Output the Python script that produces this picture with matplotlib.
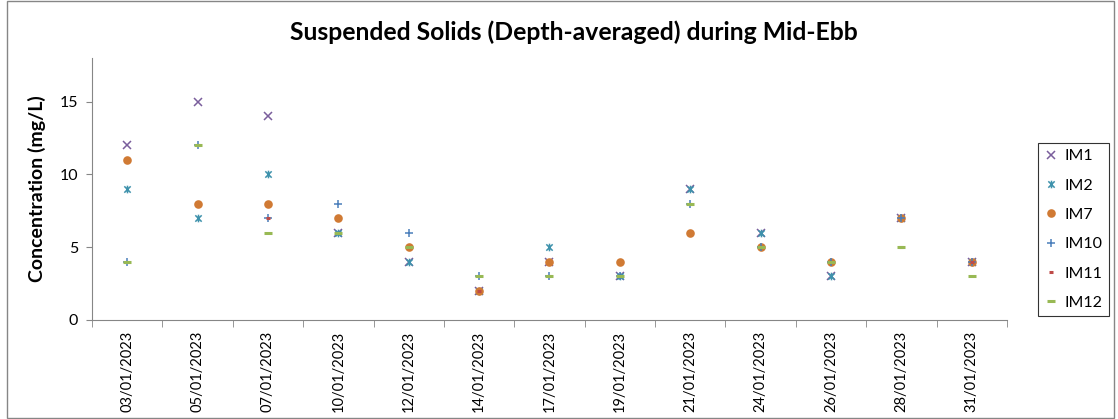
import numpy as np
import matplotlib.pyplot as plt
from matplotlib.path import Path
from matplotlib.patches import Rectangle

plt.rcParams['font.family'] = ['Lato', 'DejaVu Sans']

dates = ['03/01/2023', '05/01/2023', '07/01/2023', '10/01/2023', '12/01/2023',
         '14/01/2023', '17/01/2023', '19/01/2023', '21/01/2023', '24/01/2023',
         '26/01/2023', '28/01/2023', '31/01/2023']

im1 = [12, 15, 14, 6, 4, 2, 4, 3, 9, 6, 3, 7, 4]
im2 = [9, 7, 10, 6, 4, 2, 5, 3, 9, 6, 3, 7, 4]
im7 = [11, 8, 8, 7, 5, 2, 4, 4, 6, 5, 4, 7, 4]
im10 = [4, 12, 7, 8, 6, 3, 3, 3, 8, 5, 4, 7, 4]
im11 = [4, 12, 7, 6, 5, 2, 3, 3, 8, 5, 4, 5, 4]
im12 = [4, 12, 6, 6, 5, 3, 3, 3, 8, 5, 4, 5, 3]

# Excel "star" marker: x with a vertical bar
star = Path([(-1, -1), (1, 1), (-1, 1), (1, -1), (0, -1.2), (0, 1.2)],
            [Path.MOVETO, Path.LINETO, Path.MOVETO, Path.LINETO, Path.MOVETO, Path.LINETO])

fig = plt.figure(figsize=(11.18, 4.19), dpi=100)
ax = fig.add_axes([0.0823, 0.2363, 0.8184, 0.6253])

x = np.arange(len(dates))
ax.plot(x, im1, ls='none', marker='x', ms=5.5, mew=1.1, color='#7A5E9C', label='IM1')
ax.plot(x, im2, ls='none', marker=star, ms=5.5, mew=1.1, color='#3E92AC', label='IM2')
ax.plot(x, im7, ls='none', marker='o', ms=6.2, mec='none', color='#D07A34', label='IM7')
ax.plot(x, im10, ls='none', marker='+', ms=6, mew=1.1, color='#4A7EBB', label='IM10')
ax.plot(x, im11, ls='none', marker='_', ms=3.5, mew=2.2, color='#BE4B48', label='IM11')
ax.plot(x, im12, ls='none', marker='_', ms=6, mew=2.2, color='#98B954', label='IM12')

ax.set_xlim(-0.5, len(dates) - 0.5)
ax.set_ylim(0, 18)
ax.set_yticks([0, 5, 10, 15])
ax.set_xticks(x)
ax.set_xticklabels(dates, rotation=90, fontsize=10.5)
ax.set_xticks(np.arange(len(dates) + 1) - 0.5, minor=True)
ax.tick_params(axis='x', which='major', length=0, pad=8)
ax.tick_params(axis='x', which='minor', length=5, color='#868686', direction='out')
ax.tick_params(axis='y', length=4, color='#868686', labelsize=11.5, pad=6)
for s in ['top', 'right']:
    ax.spines[s].set_visible(False)
for s in ['left', 'bottom']:
    ax.spines[s].set_color('#868686')

ax.set_ylabel('Concentration (mg/L)', fontsize=14, fontweight='bold', labelpad=10)
fig.text(0.513, 0.922, 'Suspended Solids (Depth-averaged) during Mid-Ebb',
         ha='center', va='center', fontsize=17.8, fontweight='bold')

leg = ax.legend(loc='center left', bbox_to_anchor=(1.025, 0.345), frameon=True,
                fancybox=False, edgecolor='black', fontsize=11.5, handlelength=0.8,
                handletextpad=0.5, borderpad=0.4, labelspacing=0.95)
leg.get_frame().set_linewidth(0.8)

fig.add_artist(Rectangle((0.006, 0.003), 0.99, 0.994, transform=fig.transFigure,
                         fill=False, edgecolor='#868686', lw=1))

fig.savefig('out.png', dpi=100)
